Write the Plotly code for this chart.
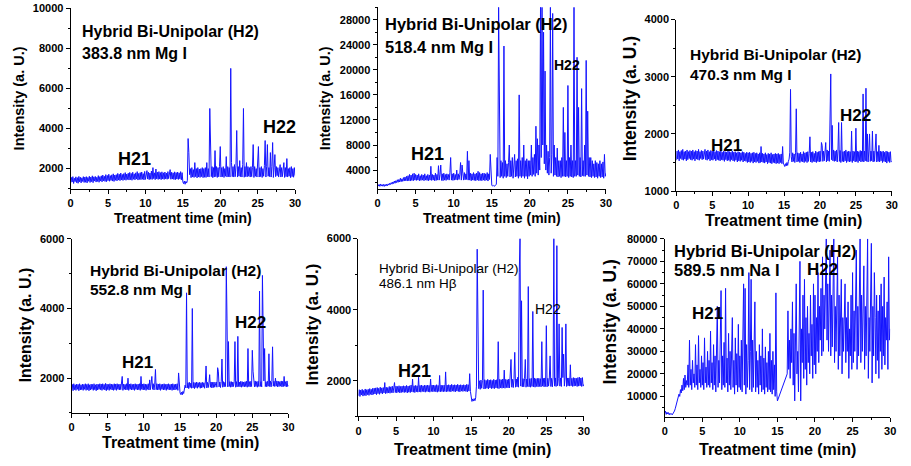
import plotly.graph_objects as go

# sampling grid (min), 0.1 min steps from 0 to 30
time_min = [round(0.1 * i, 1) for i in range(301)]

# 383.8 nm Mg I
mg_3838 = [
    1280, 1560, 1330, 1600, 1260, 1520, 1350, 1590, 1300, 1550, 1270, 1610, 1340, 1570, 1290, 1540, 1360, 1600, 1310, 1580,
    1320, 1600, 1290, 1560, 1370, 1620, 1310, 1580, 1350, 1640, 1300, 1590, 1380, 1610, 1330, 1570, 1360, 1650, 1320, 1600,
    1380, 1640, 1340, 1680, 1390, 1620, 1360, 1700, 1350, 1660, 1400, 1720, 1370, 1650, 1410, 1690, 1380, 1740, 1360, 1680,
    1420, 1700, 1390, 1760, 1430, 1720, 1400, 1780, 1440, 1710, 1410, 1750, 1450, 1800, 1420, 1730, 1460, 1770, 1430, 1810,
    1450, 1760, 1420, 1820, 1470, 1740, 1440, 1790, 1480, 1850, 1430, 1760, 1460, 1800, 1450, 1830, 1470, 1750, 1440, 1860,
    1460, 1790, 1900, 1480, 1820, 1450, 1780, 1470, 1880, 1460, 2050, 1500, 1790, 1450, 1980, 1490, 1820, 1460, 1850, 1480,
    1800, 1450, 1840, 1480, 1790, 1460, 1830, 1490, 1780, 1470, 1850, 1500, 1800, 1950, 1470, 1820, 1480, 1790, 1460, 1840,
    1450, 1800, 1480, 1830, 1460, 1790, 1490, 1850, 1440, 1800, 1340, 1250, 1380, 1220, 1360, 1280, 1400, 3500, 2800, 1700,
    2000, 1550, 2050, 1580, 1950, 1560, 2300, 1600, 2000, 1540, 2050, 1580, 1980, 1560, 2000, 1600, 2050, 1550, 2000, 1570,
    2050, 1560, 2300, 1600, 2000, 1580, 5000, 2900, 1600, 2100, 1550, 2050, 1580, 2900, 1600, 2100, 1560, 2050, 1590, 2100,
    3100, 1580, 2050, 1600, 2100, 1560, 2000, 1620, 2600, 1580, 2100, 1600, 2050, 1580, 7000, 2300, 1600, 2100, 1580, 2200,
    1600, 2150, 3900, 1580, 2100, 1620, 2400, 1600, 2050, 1580, 2200, 5000, 1570, 2100, 1600, 2300, 1590, 2100, 1620, 2050,
    1580, 2100, 1600, 2050, 3200, 1560, 2100, 1620, 2000, 1580, 2100, 3100, 1580, 2050, 1600, 2100, 1560, 2000, 1620, 2150,
    3400, 1580, 2100, 3200, 1620, 2050, 1600, 2800, 1580, 2100, 3300, 1560, 2050, 2700, 1600, 2100, 1650, 2050, 1580, 2100,
    2200, 1580, 2050, 1600, 2100, 2300, 1560, 2050, 1600, 2500, 1580, 2000, 1620, 2050, 1550, 2100, 1600, 2000, 1570, 2050,
    1650,
]

# 518.4 nm Mg I
mg_5184 = [
    1750, 1450, 1700, 1400, 1780, 1450, 1680, 1420, 1720, 1400, 1700, 1450, 1750, 1500, 1800, 1600, 1900, 1700, 2000, 1750,
    2100, 1850, 2250, 1900, 2300, 2000, 2450, 2050, 2500, 2100, 2700, 2150, 2600, 2200, 2800, 2250, 2900, 2300, 3000, 2250,
    3100, 2300, 3300, 2250, 3200, 2350, 3400, 2300, 3500, 2400, 3300, 2350, 3200, 2400, 3400, 2300, 3100, 2350, 3300, 2400,
    3200, 2300, 3400, 2400, 3100, 2350, 3300, 2300, 3200, 2400, 4600, 2350, 3300, 2400, 3200, 2300, 3500, 2350, 3300, 2400,
    4700, 2400, 3300, 4800, 2350, 3400, 2300, 3500, 2400, 3300, 2350, 3400, 2500, 3300, 2400, 3600, 6000, 2400, 3400, 2350,
    3500, 2400, 3300, 2450, 4000, 2400, 3400, 2500, 3300, 5200, 2400, 4800, 3500, 2400, 3600, 2450, 3400, 2500, 7000, 2400,
    5500, 2400, 3500, 2300, 3400, 2400, 3600, 2350, 3400, 2300, 3500, 2400, 3800, 2300, 3600, 2350, 3400, 2300, 3500, 2400,
    3500, 2300, 3400, 2400, 3600, 2250, 3400, 2500, 6500, 2300, 1600, 1450, 1550, 1400, 1500, 1450, 1700, 6000, 3000, 30000,
    6000, 2800, 5500, 3000, 5200, 2700, 23800, 3000, 5500, 2800, 5000, 3000, 5200, 8000, 2900, 5500, 3000, 6000, 2700, 5200,
    6500, 2900, 5500, 3000, 5800, 2700, 16000, 3000, 5500, 2800, 6000, 3000, 8000, 2700, 5500, 3000, 5800, 2600, 5500, 3000,
    5500, 3200, 8000, 3000, 6000, 3300, 6500, 3000, 11000, 3500, 9000, 3200, 8000, 4000, 30000, 6000, 30000, 8000, 26000, 5000,
    19800, 4000, 8000, 3500, 7000, 3200, 6000, 30000, 3500, 6500, 29000, 3000, 8000, 3200, 6000, 3000, 7500, 2900, 5500, 3000,
    5500, 2800, 6000, 3000, 14000, 3000, 10000, 2900, 5500, 3000, 17500, 2800, 6000, 3000, 8000, 2900, 5500, 2800, 30000, 3000,
    5500, 3000, 22000, 3200, 14000, 3000, 6000, 2900, 17000, 3100, 5500, 3000, 8000, 3000, 21500, 3200, 13400, 3000, 6000, 2900,
    6000, 2800, 5500, 3000, 5000, 2800, 5500, 2900, 5200, 2700, 5000, 3000, 5500, 2800, 5000, 2900, 5300, 2700, 6500, 3000,
    3500,
]

# 470.3 nm Mg I
mg_4703 = [
    1540, 1700, 1560, 1720, 1530, 1690, 1570, 1710, 1550, 1730, 1540, 1690, 1560, 1700, 1530, 1720, 1550, 1690, 1570, 1710,
    1550, 1700, 1540, 1720, 1560, 1690, 1530, 1710, 1560, 1700, 1550, 1730, 1540, 1690, 1570, 1710, 1550, 1700, 1560, 1720,
    1730, 1550, 1700, 1540, 1720, 1560, 1690, 1530, 1710, 1550, 1700, 1540, 1720, 1560, 1690, 1530, 1710, 1550, 1700, 1540,
    1690, 1530, 1710, 1550, 1680, 1540, 1700, 1520, 1690, 1550, 1680, 1530, 1700, 1540, 1690, 1520, 1680, 1550, 1700, 1530,
    1680, 1520, 1690, 1540, 1670, 1510, 1690, 1530, 1680, 1520, 1670, 1540, 1690, 1510, 1680, 1530, 1660, 1520, 1680, 1500,
    1670, 1510, 1680, 1500, 1660, 1520, 1670, 1490, 1680, 1510, 1660, 1500, 1670, 1520, 1650, 1490, 1670, 1500, 1780, 1510,
    1660, 1500, 1650, 1490, 1670, 1510, 1640, 1480, 1660, 1500, 1650, 1490, 1670, 1480, 1640, 1500, 1650, 1490, 1660, 1480,
    1650, 1490, 1660, 1480, 1640, 1500, 1650, 1480, 1780, 1490, 1470, 1430, 1480, 1440, 1500, 1450, 1520, 1560, 1680, 2780,
    1600, 1510, 1670, 1520, 1650, 1500, 1680, 2440, 1510, 1670, 1520, 1660, 1500, 1680, 1520, 1650, 1510, 1690, 1500, 1670,
    1520, 1680, 1500, 1690, 1520, 1660, 1950, 1510, 1680, 1500, 1690, 1520, 1660, 1510, 1700, 1500, 1680, 1520, 1690, 1510,
    1700, 1520, 1850, 1800, 1520, 1700, 1530, 1720, 1850, 1510, 1720, 1530, 1700, 1520, 2550, 3050, 1550, 2150, 1530, 1720,
    1520, 1700, 1530, 1720, 1510, 1700, 2200, 1520, 1710, 1500, 2200, 1520, 1690, 1510, 1700, 1530, 1720, 1500, 1690, 1520,
    1700, 1510, 1690, 1520, 2050, 1500, 1700, 1530, 1690, 1510, 2100, 1520, 1700, 1500, 1690, 1530, 1710, 1510, 1700, 1520,
    2700, 1510, 1700, 1530, 2800, 1520, 2000, 1510, 1700, 2000, 1520, 1700, 1530, 2050, 1510, 1700, 1520, 1690, 2000, 1510,
    1690, 1520, 1800, 1510, 1700, 1530, 1690, 1500, 1700, 1520, 1680, 1510, 1700, 1490, 1690, 1520, 1680, 1500, 1690, 1510,
    1520,
]

# 552.8 nm Mg I
mg_5528 = [
    1660, 1820, 1640, 1840, 1670, 1810, 1650, 1830, 1680, 1820, 1640, 1840, 1660, 1810, 1670, 1830, 1650, 1820, 1680, 1840,
    1650, 1820, 1670, 1840, 1640, 1810, 1660, 1830, 1680, 1820, 1650, 1840, 1670, 1810, 1640, 1830, 1660, 1820, 1680, 1840,
    1670, 1830, 1650, 1840, 1680, 1820, 1660, 1850, 1640, 1830, 1670, 1820, 1650, 1840, 1680, 1830, 1660, 1820, 1650, 1840,
    1670, 1830, 1650, 1840, 1680, 1820, 1660, 1830, 1670, 1840, 2050, 1650, 1830, 1680, 1820, 1660, 1840, 1670, 2000, 1650,
    1830, 1680, 1840, 1660, 1820, 1670, 1830, 1650, 1840, 1680, 1820, 1660, 1830, 1670, 1840, 1650, 2050, 1680, 1830, 1660,
    1840, 1670, 1830, 1650, 1820, 1680, 1840, 1660, 1950, 1670, 1830, 2050, 1680, 1840, 1660, 1830, 2250, 1670, 1840, 1660,
    1830, 1670, 1840, 1650, 1820, 1680, 1830, 1660, 1840, 1670, 1820, 1650, 1830, 1680, 1840, 1660, 1820, 1670, 1830, 1650,
    1840, 1670, 1820, 1660, 1830, 1680, 1840, 1650, 2150, 1670, 1580, 1530, 1600, 1520, 1620, 1560, 1680, 1800, 1720, 4450,
    1720, 1870, 1700, 1880, 1730, 1860, 1710, 4000, 1720, 1880, 1700, 1870, 1730, 1890, 1710, 1870, 1740, 1880, 1710, 1870,
    1720, 1880, 1740, 1870, 1710, 1890, 2350, 1720, 1880, 1730, 1870, 2100, 1740, 1890, 1720, 1880, 1730, 1890, 1740, 1870,
    1890, 1740, 2300, 2200, 1750, 1890, 1730, 1900, 2550, 1740, 1900, 1750, 1880, 1760, 5200, 3700, 1750, 3050, 1760, 1900,
    1740, 1900, 1750, 1890, 1760, 1910, 3050, 1740, 1900, 1750, 3200, 1760, 1890, 1750, 1910, 1740, 1900, 1760, 1890, 1750,
    1900, 1760, 1910, 1740, 2850, 1760, 1900, 1750, 1910, 1760, 2800, 2200, 1900, 1750, 1920, 1760, 1900, 1740, 1910, 1760,
    4500, 1760, 1900, 1750, 4950, 2950, 1920, 2850, 1760, 1900, 1750, 1910, 1770, 2700, 1760, 1920, 1750, 1900, 2900, 1770,
    1910, 1760, 2000, 1770, 1920, 1750, 1910, 1760, 1900, 1770, 1920, 1750, 1910, 1760, 2050, 1770, 1900, 1750, 1920, 1760,
    1800,
]

# 486.1 nm H-beta
h_4861 = [
    1580, 1750, 1560, 1740, 1600, 1760, 1570, 1730, 1590, 1770, 1580, 1750, 1610, 1760, 1590, 1780, 1620, 1760, 1600, 1790,
    1620, 1790, 1630, 1800, 1610, 1810, 1640, 1790, 1620, 1820, 1650, 1800, 1630, 1810, 1660, 1950, 1640, 1820, 1650, 1810,
    1660, 1840, 1650, 1830, 1670, 1850, 1660, 1840, 1950, 1670, 1850, 1660, 1840, 1680, 1860, 1660, 1840, 1670, 1850, 1680,
    1860, 1670, 1850, 1680, 1870, 1660, 1850, 1680, 1860, 1670, 1880, 1690, 2050, 1680, 1860, 1670, 1870, 1690, 1860, 1680,
    2100, 1690, 1870, 1680, 1880, 1700, 1860, 1690, 1880, 1680, 1870, 1700, 1880, 1690, 1870, 1680, 2050, 1700, 1880, 1690,
    1880, 1700, 1870, 1690, 1890, 1680, 1870, 1700, 2150, 1690, 1880, 1700, 1870, 1690, 1880, 1700, 2250, 1690, 1880, 1700,
    1890, 1700, 1880, 1690, 1900, 1710, 1880, 1700, 1890, 1690, 1880, 1710, 1900, 1700, 1880, 1690, 1890, 1710, 1880, 1700,
    1890, 1710, 1880, 1700, 1900, 1690, 1890, 1710, 2200, 1700, 1480, 1420, 1490, 1430, 1500, 1440, 1520, 1850, 5700, 2000,
    1780, 2000, 1760, 2020, 1790, 2010, 4550, 1770, 2030, 1780, 2010, 1790, 2040, 1770, 2020, 1800, 2030, 1780, 2010, 1790,
    2040, 1780, 2020, 1800, 2030, 1790, 3100, 1780, 2040, 1800, 2030, 1790, 2050, 1800, 2300, 1790, 2040, 1810, 2030, 1800,
    2050, 1800, 2550, 2600, 1820, 2040, 1810, 2060, 2800, 1820, 2050, 1830, 2100, 1820, 5050, 6000, 1850, 4250, 1830, 2060,
    1830, 2060, 2600, 1820, 2050, 1840, 4650, 1830, 2060, 1820, 2070, 1840, 3950, 1830, 2080, 1820, 2060, 1840, 2070, 1830,
    2070, 1840, 2060, 1830, 3100, 1850, 2070, 1830, 2080, 1840, 3550, 1830, 2070, 1850, 2080, 2700, 1840, 2070, 1830, 2080,
    6000, 1850, 2080, 1840, 5800, 1860, 2070, 3600, 1850, 2080, 1840, 3500, 2090, 2750, 1850, 2080, 3600, 1840, 2080, 1860,
    2080, 1850, 2450, 1860, 2070, 1840, 2090, 1850, 2080, 1860, 2070, 1840, 2090, 1850, 2100, 1860, 2080, 1840, 2090, 1850,
    1900,
]

# 589.5 nm Na I (no samples recorded between 15.1 and 16.2 min)
na_5895 = [
    2500, 3500, 2000, 3000, 2200, 2800, 1800, 2500, 2000, 2300, 1800, 2200, 2600, 3500, 4500, 6000, 7000, 8500, 9500, 11000,
    10000, 13000, 11500, 15000, 12500, 18000, 13000, 19500, 14000, 17000, 15000, 24000, 14000, 35000, 15000, 22000, 13000, 26000, 16000, 20000,
    14000, 33000, 15000, 24000, 13000, 37000, 16000, 22000, 14000, 28000, 15000, 25000, 13000, 36000, 16000, 23000, 14000, 30000, 15000, 26000,
    14000, 39000, 16000, 25000, 13000, 33000, 15000, 28000, 12000, 35000, 50000, 14000, 26000, 16000, 31000, 57000, 13000, 28000, 15000, 34000,
    14000, 58000, 16000, 27000, 12000, 38000, 15000, 30000, 13000, 33000, 45000, 14000, 26000, 11000, 36000, 15000, 29000, 12000, 42000, 14000,
    28000, 13000, 35000, 12000, 31000, 60000, 15000, 58000, 11000, 33000, 14000, 26000, 65000, 13000, 30000, 62000, 12000, 35000, 14000, 28000,
    52000, 12000, 30000, 14000, 26000, 11000, 33000, 15000, 28000, 12000, 40000, 13000, 27000, 11000, 32000, 14000, 25000, 12000, 30000, 13000,
    38000, 12000, 26000, 11000, 30000, 13000, 24000, 10000, 56000, 12000, 8000, None, None, None, None, None, None, None, None, None,
    None, None, None, 20000, 48000, 22000, 35000, 18000, 40000, 25000, 52000, 15000, 38000, 8000, 45000, 60000, 20000, 30000, 12000, 42000,
    70000, 8000, 40000, 25000, 55000, 18000, 62000, 22000, 45000, 15000, 50000, 25000, 38000, 20000, 55000, 28000, 42000, 18000, 60000, 24000,
    55000, 20000, 45000, 30000, 65000, 25000, 50000, 35000, 58000, 28000, 72000, 30000, 55000, 40000, 65000, 80000, 35000, 60000, 30000, 70000,
    75000, 28000, 55000, 32000, 62000, 80000, 25000, 50000, 30000, 60000, 72000, 22000, 55000, 28000, 48000, 62000, 20000, 45000, 30000, 58000,
    60000, 25000, 45000, 30000, 52000, 18000, 40000, 28000, 55000, 22000, 65000, 25000, 48000, 30000, 58000, 75000, 22000, 50000, 28000, 60000,
    80000, 25000, 55000, 30000, 48000, 68000, 22000, 50000, 28000, 60000, 80000, 18000, 45000, 30000, 55000, 78000, 16000, 50000, 28000, 65000,
    45000, 20000, 55000, 26000, 48000, 18000, 55000, 30000, 60000, 22000, 50000, 28000, 63000, 24000, 45000, 35000, 52000, 22000, 72000, 35000,
    40000,
]

W, H = 911, 466
FONT = "Liberation Sans, Arial, sans-serif"


def fx(p):
    return p / W


def fy(p):
    return 1 - p / H


panels = [
    dict(y=mg_3838, xpx=(68.3, 295.0), ypx=(187.5, 2.3), yr=(1000, 10000), dt=2000, mn=1000,
         l1="Hybrid Bi-Unipolar (H2)", l2="383.8 nm Mg I", lx=78, ly1=26, ly2=49, ls=16, lw="bold",
         h21=(132.5, 157, 18, "bold"), h22=(279.7, 124, 18, "bold"),
         xt=(182, 218, 14), yt=(16, 95, 14.5)),
    dict(y=mg_5184, xpx=(378.3, 609.0), ypx=(187.7, 1.2), yr=(1000, 30000), dt=4000, mn=2000,
         l1="Hybrid Bi-Unipolar (H2)", l2="518.4 nm Mg I", lx=384, ly1=18, ly2=42, ls=16.5, lw="bold",
         h21=(429, 152, 18, "bold"), h22=(570, 61, 14, "bold"),
         xt=(494, 218, 14), yt=(325, 95, 14.5)),
    dict(y=mg_4703, xpx=(680.0, 897.7), ypx=(190.0, 14.0), yr=(1000, 4000), dt=1000, mn=500,
         l1="Hybrid Bi-Unipolar (H2)", l2="470.3 nm Mg I", lx=692, ly1=50, ly2=70, ls=15.5, lw="bold",
         h21=(731, 143, 17, "bold"), h22=(861, 112, 17, "bold"),
         xt=(788, 220, 16), yt=(633, 95, 17.5)),
    dict(y=mg_5528, xpx=(69.3, 288.3), ypx=(417.75, 239.0), yr=(1000, 6000), dt=2000, mn=1000,
         l1="Hybrid Bi-Unipolar (H2)", l2="552.8 nm Mg I", lx=86, ly1=271, ly2=291, ls=15.5, lw="bold",
         h21=(136, 366, 17, "bold"), h22=(250, 325, 17, "bold"),
         xt=(179, 448, 16), yt=(23, 327, 16)),
    dict(y=h_4861, xpx=(359.0, 586.7), ypx=(421.2, 238.7), yr=(1000, 6000), dt=2000, mn=1000,
         l1="Hybrid Bi-Unipolar (H2)", l2="486.1 nm H\u03b2", lx=378, ly1=269, ly2=285, ls=13.5, lw="normal",
         h21=(416, 375, 18, "bold"), h22=(550, 311, 14, "normal"),
         xt=(474, 455, 16), yt=(313, 327, 17)),
    dict(y=na_5895, xpx=(668.3, 896.0), ypx=(421.5, 239.0), yr=(1000, 80000), dt=10000, mn=5000,
         l1="Hybrid Bi-Unipolar (H2)", l2="589.5 nm Na I", lx=676, ly1=251, ly2=271, ls=16.5, lw="bold",
         h21=(712, 316, 17, "bold"), h22=(828, 270, 17, "bold"),
         xt=(782, 455, 16), yt=(613, 324, 17.5)),
]

fig = go.Figure()
annotations = []
for i, p in enumerate(panels, start=1):
    if len(p["y"]) != len(time_min):
        raise ValueError(f"panel {i} has {len(p['y'])} values")
    sfx = "" if i == 1 else str(i)
    fig.add_trace(go.Scatter(
        x=time_min, y=p["y"], mode="lines", connectgaps=True,
        line=dict(color="rgb(20,20,255)", width=1),
        xaxis="x" + sfx, yaxis="y" + sfx, showlegend=False, hoverinfo="skip",
    ))
    tickfont = dict(family=FONT, size=11, color="black", weight="bold")
    fig.layout["xaxis" + sfx] = dict(
        domain=[fx(p["xpx"][0]), fx(p["xpx"][1])], range=[0, 30], anchor="y" + sfx,
        tick0=0, dtick=5, ticks="outside", ticklen=4, tickwidth=1, tickcolor="black",
        minor=dict(dtick=2.5, ticks="outside", ticklen=2, tickcolor="black"),
        showline=True, linecolor="black", linewidth=1, showgrid=False, zeroline=False,
        tickfont=tickfont, tickformat="d",
    )
    fig.layout["yaxis" + sfx] = dict(
        domain=[fy(p["ypx"][0]), fy(p["ypx"][1])], range=list(p["yr"]), anchor="x" + sfx,
        tick0=0, dtick=p["dt"], ticks="outside", ticklen=4, tickwidth=1, tickcolor="black",
        minor=dict(dtick=p["mn"], ticks="outside", ticklen=2, tickcolor="black"),
        showline=True, linecolor="black", linewidth=1, showgrid=False, zeroline=False,
        tickfont=tickfont, tickformat="d", exponentformat="none", separatethousands=False,
    )
    for txt, yy in ((p["l1"], p["ly1"]), (p["l2"], p["ly2"])):
        annotations.append(dict(
            text=txt, x=fx(p["lx"]), y=fy(yy), xref="paper", yref="paper",
            xanchor="left", yanchor="middle", showarrow=False,
            font=dict(family=FONT, size=p["ls"], color="black", weight=p["lw"]),
        ))
    for lab, key in (("H21", "h21"), ("H22", "h22")):
        cx, cy, sz, wt = p[key]
        annotations.append(dict(
            text=lab, x=fx(cx), y=fy(cy), xref="paper", yref="paper",
            xanchor="center", yanchor="middle", showarrow=False,
            font=dict(family=FONT, size=sz, color="black", weight=wt),
        ))
    cx, cy, sz = p["xt"]
    annotations.append(dict(
        text="Treatment time (min)", x=fx(cx), y=fy(cy), xref="paper", yref="paper",
        xanchor="center", yanchor="middle", showarrow=False,
        font=dict(family=FONT, size=sz, color="black", weight="bold"),
    ))
    cx, cy, sz = p["yt"]
    annotations.append(dict(
        text="Intensity (a. U.)", x=fx(cx), y=fy(cy), xref="paper", yref="paper",
        xanchor="center", yanchor="middle", showarrow=False, textangle=-90,
        font=dict(family=FONT, size=sz, color="black", weight="bold"),
    ))

fig.update_layout(
    width=W, height=H, margin=dict(l=0, r=0, t=0, b=0),
    paper_bgcolor="white", plot_bgcolor="white",
    annotations=annotations,
)
fig.write_html("out.html")
